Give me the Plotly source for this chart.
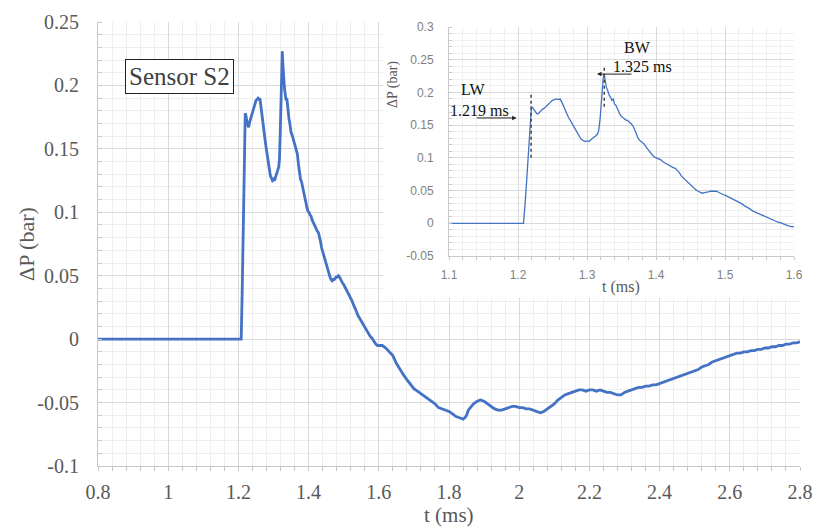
import plotly.graph_objects as go

# ---- data (time in ms, pressure difference in bar) ----
t_ms = [
    0.8, 1.0, 1.2, 1.208, 1.211, 1.214, 1.217, 1.2195, 1.221, 1.224, 1.227, 1.229,
    1.232, 1.235, 1.238, 1.241, 1.244, 1.247, 1.250, 1.253, 1.256, 1.259, 1.261,
    1.264, 1.267, 1.270, 1.273, 1.276, 1.279, 1.282, 1.285, 1.288, 1.291, 1.294,
    1.297, 1.300, 1.303, 1.306, 1.309, 1.312, 1.315, 1.317, 1.319, 1.3205, 1.322,
    1.3235, 1.325, 1.3265, 1.328, 1.330, 1.332, 1.334, 1.336, 1.338, 1.340, 1.342,
    1.344, 1.346, 1.348, 1.350, 1.353, 1.356, 1.359, 1.362, 1.365, 1.368, 1.371,
    1.374, 1.377, 1.380, 1.383, 1.386, 1.389, 1.392, 1.395, 1.398, 1.401, 1.404,
    1.407, 1.410, 1.413, 1.416, 1.419, 1.422, 1.425, 1.428, 1.431, 1.434, 1.437,
    1.440, 1.443, 1.446, 1.449, 1.452, 1.455, 1.458, 1.461, 1.464, 1.467, 1.470,
    1.473, 1.476, 1.479, 1.482, 1.485, 1.488, 1.491, 1.494, 1.497, 1.500, 1.504,
    1.508, 1.512, 1.516, 1.520, 1.524, 1.528, 1.532, 1.536, 1.540, 1.544, 1.548,
    1.552, 1.556, 1.560, 1.564, 1.568, 1.572, 1.576, 1.580, 1.584, 1.588, 1.592,
    1.596, 1.600, 1.610, 1.620, 1.630, 1.640, 1.650, 1.660, 1.670, 1.680, 1.690,
    1.700, 1.710, 1.720, 1.730, 1.740, 1.750, 1.760, 1.770, 1.780, 1.790, 1.800,
    1.810, 1.820, 1.830, 1.840, 1.845, 1.850, 1.855, 1.860, 1.870, 1.880, 1.890,
    1.900, 1.910, 1.920, 1.930, 1.940, 1.950, 1.960, 1.970, 1.980, 1.990, 2.000,
    2.010, 2.020, 2.030, 2.040, 2.050, 2.060, 2.070, 2.080, 2.090, 2.100, 2.110,
    2.120, 2.130, 2.140, 2.150, 2.160, 2.170, 2.180, 2.190, 2.200, 2.210, 2.220,
    2.230, 2.240, 2.250, 2.260, 2.270, 2.280, 2.290, 2.300, 2.310, 2.320, 2.330,
    2.340, 2.350, 2.360, 2.370, 2.380, 2.390, 2.400, 2.410, 2.420, 2.430, 2.440,
    2.450, 2.460, 2.470, 2.480, 2.490, 2.500, 2.510, 2.520, 2.530, 2.540, 2.550,
    2.560, 2.570, 2.580, 2.590, 2.600, 2.610, 2.620, 2.630, 2.640, 2.650, 2.660,
    2.670, 2.680, 2.690, 2.700, 2.710, 2.720, 2.730, 2.740, 2.750, 2.760, 2.770,
    2.780, 2.790, 2.800,
]
dp_bar = [
    0.0, 0.0, 0.0, 0.0, 0.040, 0.090, 0.140, 0.178, 0.177, 0.172, 0.168, 0.167,
    0.171, 0.174, 0.176, 0.179, 0.181, 0.185, 0.188, 0.189, 0.190, 0.189, 0.190,
    0.184, 0.176, 0.168, 0.162, 0.157, 0.151, 0.145, 0.139, 0.133, 0.129, 0.127,
    0.125, 0.126, 0.125, 0.128, 0.130, 0.133, 0.136, 0.142, 0.160, 0.180, 0.205,
    0.222, 0.227, 0.218, 0.208, 0.203, 0.196, 0.193, 0.188, 0.190, 0.182, 0.180,
    0.174, 0.171, 0.166, 0.163, 0.161, 0.158, 0.157, 0.154, 0.151, 0.146, 0.138,
    0.130, 0.126, 0.124, 0.121, 0.116, 0.112, 0.107, 0.104, 0.101, 0.100, 0.098,
    0.097, 0.094, 0.092, 0.091, 0.088, 0.087, 0.085, 0.084, 0.081, 0.077, 0.072,
    0.069, 0.065, 0.062, 0.059, 0.056, 0.053, 0.051, 0.049, 0.047, 0.046, 0.047,
    0.047, 0.048, 0.049, 0.049, 0.050, 0.049, 0.047, 0.045, 0.044, 0.043, 0.041,
    0.039, 0.036, 0.034, 0.032, 0.030, 0.027, 0.025, 0.022, 0.019, 0.017, 0.015,
    0.014, 0.011, 0.010, 0.008, 0.006, 0.004, 0.002, 0.001, -0.001, -0.002, -0.004,
    -0.005, -0.005, -0.005, -0.007, -0.010, -0.013, -0.019, -0.024, -0.028, -0.032, -0.036,
    -0.039, -0.041, -0.043, -0.045, -0.047, -0.049, -0.051, -0.054, -0.055, -0.056, -0.057,
    -0.059, -0.061, -0.062, -0.063, -0.062, -0.060, -0.056, -0.054, -0.051, -0.049, -0.048,
    -0.049, -0.051, -0.053, -0.055, -0.056, -0.056, -0.055, -0.054, -0.053, -0.053, -0.054,
    -0.054, -0.055, -0.055, -0.056, -0.057, -0.058, -0.057, -0.055, -0.053, -0.051, -0.048,
    -0.046, -0.044, -0.043, -0.042, -0.041, -0.040, -0.040, -0.041, -0.040, -0.040, -0.041,
    -0.040, -0.041, -0.042, -0.042, -0.043, -0.044, -0.044, -0.042, -0.041, -0.040, -0.039,
    -0.038, -0.038, -0.037, -0.037, -0.036, -0.036, -0.035, -0.034, -0.033, -0.032, -0.031,
    -0.030, -0.029, -0.028, -0.027, -0.026, -0.025, -0.024, -0.022, -0.021, -0.020, -0.018,
    -0.017, -0.016, -0.015, -0.014, -0.013, -0.012, -0.011, -0.011, -0.010, -0.010, -0.009,
    -0.009, -0.008, -0.008, -0.007, -0.007, -0.006, -0.006, -0.005, -0.005, -0.004, -0.004,
    -0.003, -0.003, -0.002,
]

main_x_ticks = [0.8, 1.0, 1.2, 1.4, 1.6, 1.8, 2.0, 2.2, 2.4, 2.6, 2.8]
main_x_text = ["0.8", "1", "1.2", "1.4", "1.6", "1.8", "2", "2.2", "2.4", "2.6", "2.8"]
main_y_ticks = [-0.1, -0.05, 0, 0.05, 0.1, 0.15, 0.2, 0.25]
main_y_text = ["-0.1", "-0.05", "0", "0.05", "0.1", "0.15", "0.2", "0.25"]
inset_x_ticks = [1.1, 1.2, 1.3, 1.4, 1.5, 1.6]
inset_x_text = ["1.1", "1.2", "1.3", "1.4", "1.5", "1.6"]
inset_y_ticks = [-0.05, 0, 0.05, 0.1, 0.15, 0.2, 0.25, 0.3]
inset_y_text = ["-0.05", "0", "0.05", "0.1", "0.15", "0.2", "0.25", "0.3"]

lw_time, bw_time = 1.219, 1.325

BLUE = "#4472C4"
SERIF = "Liberation Serif, Times New Roman, serif"
SANS = "Liberation Sans, Arial, sans-serif"

# pixel -> paper helpers for the main plot area (98..800 x, 22..466 y)
L, R, T, B = 98, 16, 22, 62
W, H = 816, 528
PW, PH = W - L - R, H - T - B


def px(x):
    return (x - L) / PW


def py(y):
    return (H - B - y) / PH


fig = go.Figure()

fig.add_trace(go.Scatter(x=t_ms, y=dp_bar, mode="lines",
                         line=dict(color=BLUE, width=2.8),
                         xaxis="x", yaxis="y", hoverinfo="skip"))
# empty subplot whose opaque background hides the main plot under the inset
fig.add_trace(go.Scatter(x=[None], y=[None], mode="lines",
                         xaxis="x2", yaxis="y2", hoverinfo="skip"))
fig.add_trace(go.Scatter(x=t_ms, y=dp_bar, mode="lines",
                         line=dict(color=BLUE, width=1.3),
                         xaxis="x3", yaxis="y3", hoverinfo="skip"))

main_axis_common = dict(
    showgrid=True, gridcolor="#d9d9d9", gridwidth=1,
    showline=True, linecolor="#c8c8c8", linewidth=1,
    zeroline=False, tickmode="array", ticks="", automargin=False,
    tickfont=dict(family=SERIF, size=20, color="#595959"),
)

inset_axis_common = dict(
    showgrid=True, gridcolor="#d9d9d9", gridwidth=1,
    showline=True, linecolor="#c8c8c8", linewidth=1,
    zeroline=False, tickmode="array", ticks="", automargin=False,
    tickfont=dict(family=SANS, size=12, color="#808080"),
)

fig.update_layout(
    width=W, height=H,
    margin=dict(l=L, r=R, t=T, b=B, autoexpand=False),
    paper_bgcolor="white", plot_bgcolor="white",
    showlegend=False,
    xaxis=dict(**main_axis_common, range=[0.8, 2.8], domain=[0, 1],
               tickvals=main_x_ticks, ticktext=main_x_text,
               ticklabelstandoff=8,
               minor=dict(tickmode="linear", tick0=0.8, dtick=0.04, showgrid=True,
                          gridcolor="#eeeeee", ticks="outside", ticklen=4,
                          tickcolor="#c8c8c8")),
    yaxis=dict(**main_axis_common, range=[-0.1, 0.25], domain=[0, 1],
               tickvals=main_y_ticks, ticktext=main_y_text,
               ticklabelstandoff=14,
               minor=dict(tickmode="linear", tick0=0, dtick=0.01, showgrid=True,
                          gridcolor="#eeeeee", ticks="inside", ticklen=4,
                          tickcolor="#c8c8c8")),
    xaxis2=dict(visible=False, domain=[px(383), 1], range=[0, 1],
                anchor="y2", fixedrange=True, automargin=False),
    yaxis2=dict(visible=False, domain=[py(298), 1], range=[0, 1],
                anchor="x2", fixedrange=True, automargin=False),
    xaxis3=dict(**inset_axis_common, range=[1.1, 1.6],
                domain=[px(449), px(794)], anchor="y3",
                tickvals=inset_x_ticks, ticktext=inset_x_text,
                ticklabelstandoff=8,
                minor=dict(tickmode="linear", tick0=1.1, dtick=0.02, showgrid=True,
                           gridcolor="#efefef", ticks="outside", ticklen=3,
                           tickcolor="#c8c8c8")),
    yaxis3=dict(**inset_axis_common, range=[-0.05, 0.3],
                domain=[py(256), py(27)], anchor="x3",
                tickvals=inset_y_ticks, ticktext=inset_y_text,
                ticklabelstandoff=12,
                minor=dict(tickmode="linear", tick0=0, dtick=0.01, showgrid=True,
                           gridcolor="#efefef", ticks="inside", ticklen=3,
                           tickcolor="#c8c8c8")),
)

annotations = [
    dict(text="ΔP (bar)", x=px(26), y=py(244), xref="paper", yref="paper",
         showarrow=False, textangle=-90, xanchor="center", yanchor="middle",
         font=dict(family=SERIF, size=22, color="#595959")),
    dict(text="t (ms)", x=px(449), y=py(515), xref="paper", yref="paper",
         showarrow=False, xanchor="center", yanchor="middle",
         font=dict(family=SERIF, size=21, color="#595959")),
    dict(text="ΔP (bar)", x=px(393), y=py(85), xref="paper", yref="paper",
         showarrow=False, textangle=-90, xanchor="center", yanchor="middle",
         font=dict(family=SERIF, size=14, color="#595959")),
    dict(text="t (ms)", x=px(621), y=py(287), xref="paper", yref="paper",
         showarrow=False, xanchor="center", yanchor="middle",
         font=dict(family=SERIF, size=16, color="#595959")),
    dict(text="Sensor S2", x=px(179), y=py(77), xref="paper", yref="paper",
         showarrow=False, xanchor="center", yanchor="middle",
         bgcolor="white", bordercolor="#222222", borderwidth=1, borderpad=3,
         font=dict(family=SERIF, size=25, color="#404040")),
    dict(text="LW", x=1.135, y=0.205, xref="x3", yref="y3", showarrow=False,
         xanchor="center", yanchor="middle",
         font=dict(family=SERIF, size=16, color="#111111")),
    dict(text=f"{lw_time:.3f} ms", x=1.1435, y=0.173, xref="x3", yref="y3",
         showarrow=False, xanchor="center", yanchor="middle",
         font=dict(family=SERIF, size=16, color="#111111")),
    dict(text="BW", x=1.3725, y=0.268, xref="x3", yref="y3", showarrow=False,
         xanchor="center", yanchor="middle",
         font=dict(family=SERIF, size=16, color="#111111")),
    dict(text=f"{bw_time:.3f} ms", x=1.381, y=0.2404, xref="x3", yref="y3",
         showarrow=False, xanchor="center", yanchor="middle",
         font=dict(family=SERIF, size=16, color="#111111")),
    dict(text="", x=1.198, y=0.161, ax=1.138, ay=0.161, xref="x3", yref="y3",
         axref="x3", ayref="y3", showarrow=True, arrowhead=2, arrowsize=0.9,
         arrowwidth=1, arrowcolor="#222222", standoff=0, startstandoff=0),
    dict(text="", x=1.3145, y=0.228, ax=1.3667, ay=0.228, xref="x3", yref="y3",
         axref="x3", ayref="y3", showarrow=True, arrowhead=2, arrowsize=0.9,
         arrowwidth=1, arrowcolor="#222222", standoff=0, startstandoff=0),
]
fig.update_layout(annotations=annotations)

fig.update_layout(shapes=[
    dict(type="line", xref="x3", yref="y3", x0=lw_time, x1=lw_time, y0=0.1, y1=0.2,
         line=dict(color="#444444", width=1.5, dash="dot"), layer="above"),
    dict(type="line", xref="x3", yref="y3", x0=bw_time, x1=bw_time, y0=0.178, y1=0.24,
         line=dict(color="#444444", width=1.5, dash="dot"), layer="above"),
])

# remove the browser's default 8px page margin so the figure fills the window
fig.write_html(
    "out.html",
    config={"displayModeBar": False},
    post_script="document.body.style.margin='0';document.body.style.overflow='hidden';",
)
